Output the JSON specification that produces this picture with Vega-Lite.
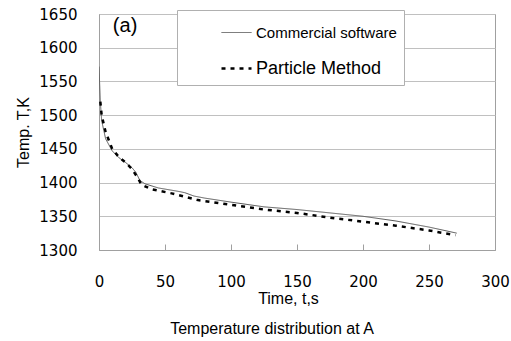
{
  "$schema": "https://vega.github.io/schema/vega-lite/v6.json",
  "width": 396,
  "height": 236,
  "autosize": {"type": "none"},
  "padding": {"left": 99, "top": 14, "right": 16, "bottom": 91},
  "background": "white",
  "config": {
    "view": {"stroke": "#a0a0a0", "strokeWidth": 1},
    "font": "Liberation Sans"
  },
  "title": {
    "text": "Temperature distribution at A",
    "orient": "bottom",
    "anchor": "middle",
    "dx": -25,
    "offset": 15,
    "fontSize": 16,
    "fontWeight": "normal",
    "font": "Liberation Sans",
    "color": "black"
  },
  "data": {
    "values": [
      {"t": 0, "T": 1572, "s": "Commercial software"},
      {"t": 1, "T": 1520, "s": "Commercial software"},
      {"t": 2, "T": 1492, "s": "Commercial software"},
      {"t": 5, "T": 1465, "s": "Commercial software"},
      {"t": 10, "T": 1447, "s": "Commercial software"},
      {"t": 15, "T": 1437, "s": "Commercial software"},
      {"t": 20, "T": 1430, "s": "Commercial software"},
      {"t": 25, "T": 1422, "s": "Commercial software"},
      {"t": 28, "T": 1415, "s": "Commercial software"},
      {"t": 31, "T": 1403, "s": "Commercial software"},
      {"t": 35, "T": 1398, "s": "Commercial software"},
      {"t": 45, "T": 1392, "s": "Commercial software"},
      {"t": 60, "T": 1387, "s": "Commercial software"},
      {"t": 65, "T": 1385, "s": "Commercial software"},
      {"t": 72, "T": 1380, "s": "Commercial software"},
      {"t": 80, "T": 1377, "s": "Commercial software"},
      {"t": 100, "T": 1371, "s": "Commercial software"},
      {"t": 125, "T": 1364, "s": "Commercial software"},
      {"t": 150, "T": 1360, "s": "Commercial software"},
      {"t": 175, "T": 1355, "s": "Commercial software"},
      {"t": 200, "T": 1350, "s": "Commercial software"},
      {"t": 225, "T": 1343, "s": "Commercial software"},
      {"t": 250, "T": 1334, "s": "Commercial software"},
      {"t": 271, "T": 1325, "s": "Commercial software"},
      {"t": 1, "T": 1520, "s": "Particle Method"},
      {"t": 2, "T": 1500, "s": "Particle Method"},
      {"t": 5, "T": 1475, "s": "Particle Method"},
      {"t": 10, "T": 1450, "s": "Particle Method"},
      {"t": 15, "T": 1438, "s": "Particle Method"},
      {"t": 20, "T": 1430, "s": "Particle Method"},
      {"t": 25, "T": 1420, "s": "Particle Method"},
      {"t": 30, "T": 1405, "s": "Particle Method"},
      {"t": 32, "T": 1397, "s": "Particle Method"},
      {"t": 40, "T": 1390, "s": "Particle Method"},
      {"t": 55, "T": 1384, "s": "Particle Method"},
      {"t": 75, "T": 1374, "s": "Particle Method"},
      {"t": 100, "T": 1367, "s": "Particle Method"},
      {"t": 125, "T": 1360, "s": "Particle Method"},
      {"t": 150, "T": 1355, "s": "Particle Method"},
      {"t": 175, "T": 1348, "s": "Particle Method"},
      {"t": 200, "T": 1342, "s": "Particle Method"},
      {"t": 225, "T": 1336, "s": "Particle Method"},
      {"t": 250, "T": 1329, "s": "Particle Method"},
      {"t": 270, "T": 1322, "s": "Particle Method"}
    ]
  },
  "encoding": {
    "x": {
      "field": "t", "type": "quantitative",
      "scale": {"domain": [0, 300], "nice": false},
      "axis": {
        "values": [0, 50, 100, 150, 200, 250, 300],
        "grid": false,
        "domainColor": "#a0a0a0",
        "tickColor": "#a0a0a0",
        "tickSize": -6,
        "labelPadding": 30,
        "labelFont": "DejaVu Sans",
        "labelFontSize": 15,
        "labelColor": "black",
        "labelFlush": false,
        "labelOverlap": false,
        "format": "d",
        "title": "Time, t,s",
        "titleFont": "Liberation Sans",
        "titleFontSize": 16,
        "titleFontWeight": "normal",
        "titleColor": "black",
        "titleX": 189,
        "titlePadding": 1
      }
    },
    "y": {
      "field": "T", "type": "quantitative",
      "scale": {"domain": [1300, 1650], "nice": false, "zero": false},
      "axis": {
        "values": [1300, 1350, 1400, 1450, 1500, 1550, 1600, 1650],
        "grid": true,
        "gridColor": "#c0c0c0",
        "domainColor": "#a0a0a0",
        "ticks": false,
        "labelPadding": 22,
        "labelFont": "DejaVu Sans",
        "labelFontSize": 15,
        "labelColor": "black",
        "labelFlush": false,
        "labelOverlap": false,
        "format": "d",
        "title": "Temp. T,K",
        "titleFont": "Liberation Sans",
        "titleFontSize": 16,
        "titleFontWeight": "normal",
        "titleColor": "black",
        "titlePadding": 7
      }
    }
  },
  "layer": [
    {
      "mark": {"type": "line", "clip": true},
      "encoding": {
        "color": {
          "field": "s", "type": "nominal",
          "scale": {"domain": ["Commercial software", "Particle Method"], "range": ["#555555", "#000000"]},
          "legend": {
            "orient": "none",
            "legendX": 78,
            "legendY": -4,
            "title": null,
            "padding": 7,
            "symbolOffset": 36,
            "rowPadding": 11,
            "symbolSize": 900,
            "symbolType": "stroke",
            "labelOffset": 3,
            "labelFont": "Liberation Sans",
            "labelFontSize": 18,
            "labelColor": "black",
            "labelExpr": "datum.label + '\u2007\u2007'",
            "strokeColor": "#b0b0b0",
            "fillColor": "white",
            "labelLimit": 300,
            "encode": {
              "labels": {"update": {"fontSize": {"signal": "datum.value == 'Particle Method' ? 18 : 15"}}}
            }
          }
        },
        "strokeDash": {
          "field": "s", "type": "nominal",
          "scale": {"domain": ["Commercial software", "Particle Method"], "range": [[1, 0], [4, 5]]},
          "legend": null
        },
        "strokeWidth": {
          "field": "s", "type": "nominal",
          "scale": {"domain": ["Commercial software", "Particle Method"], "range": [1, 2.5]},
          "legend": null
        }
      }
    },
    {
      "data": {"values": [{"t": 10.5, "T": 1632, "label": "(a)"}]},
      "mark": {"type": "text", "align": "left", "baseline": "middle", "fontSize": 20, "fontWeight": "normal", "font": "Liberation Sans", "fill": "black"},
      "encoding": {
        "text": {"field": "label", "type": "nominal"}
      }
    }
  ]
}
